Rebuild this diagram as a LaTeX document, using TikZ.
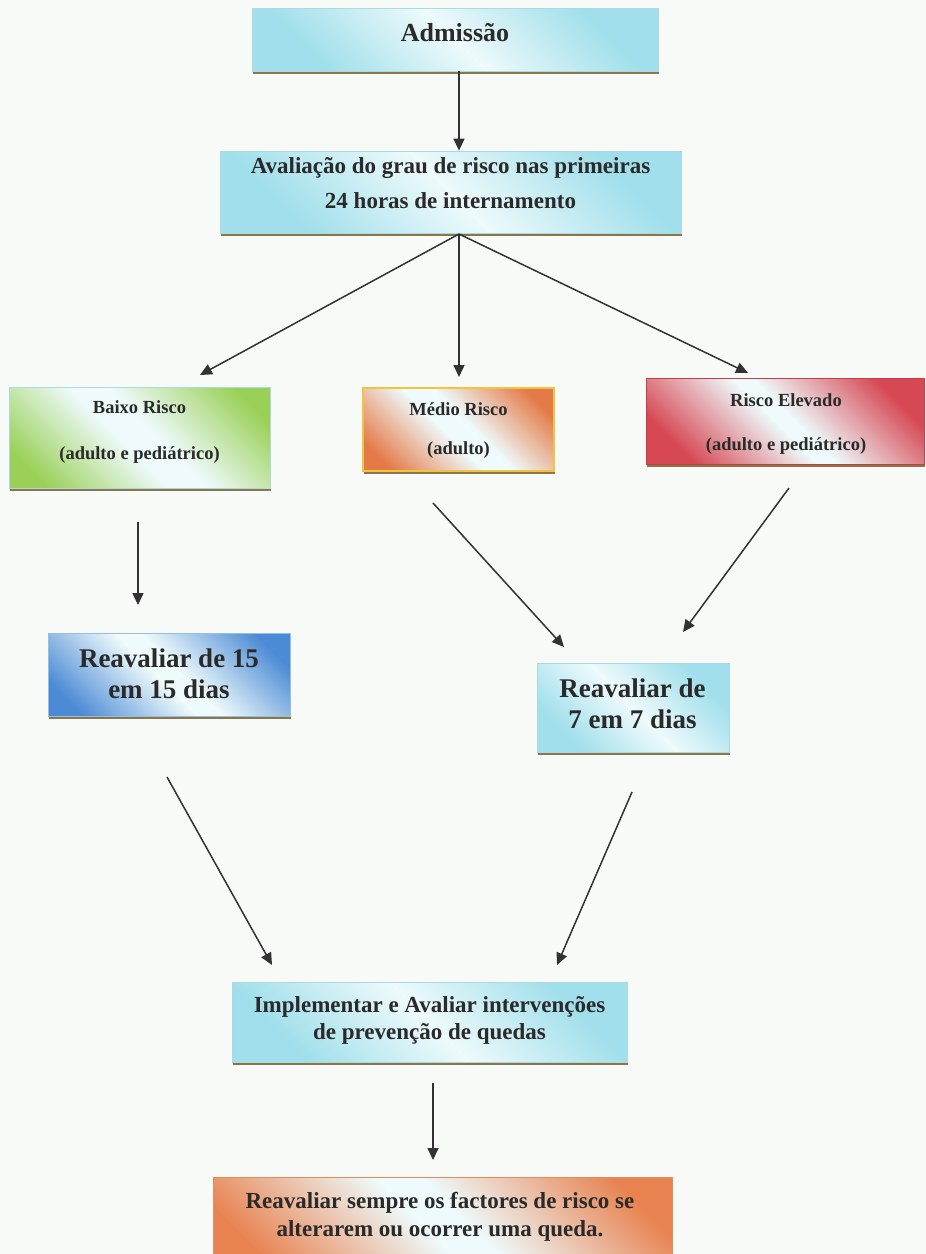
\documentclass[tikz,border=0pt]{standalone}
\usepackage{fontspec}
\setmainfont{Liberation Serif}
\usetikzlibrary{arrows.meta,shadows}

\definecolor{bgc}{RGB}{248,250,248}
\definecolor{textc}{RGB}{42,42,42}
\definecolor{arrowc}{RGB}{50,50,50}
\definecolor{shadowc}{RGB}{138,118,72}
\definecolor{lightC}{RGB}{238,250,251}
\definecolor{cyanE}{RGB}{160,223,235}
\definecolor{cyanB}{RGB}{170,218,228}
\definecolor{greenE}{RGB}{155,208,88}
\definecolor{medioE}{RGB}{228,122,72}
\definecolor{medioB}{RGB}{240,196,60}
\definecolor{elevE}{RGB}{214,72,84}
\definecolor{elevB}{RGB}{200,60,70}
\definecolor{blueE}{RGB}{75,138,212}
\definecolor{blueB}{RGB}{150,190,225}
\definecolor{botE}{RGB}{232,130,80}
\definecolor{botB}{RGB}{225,140,90}

\pgfdeclareverticalshading{shcyan}{100bp}{color(0bp)=(cyanE); color(26bp)=(cyanE); color(50bp)=(lightC); color(74bp)=(cyanE); color(100bp)=(cyanE)}
\pgfdeclareverticalshading{shgreen}{100bp}{color(0bp)=(greenE); color(22bp)=(greenE); color(46bp)=(lightC); color(54bp)=(lightC); color(78bp)=(greenE); color(100bp)=(greenE)}
\pgfdeclareverticalshading{shmedio}{100bp}{color(0bp)=(medioE); color(22bp)=(medioE); color(46bp)=(lightC); color(54bp)=(lightC); color(78bp)=(medioE); color(100bp)=(medioE)}
\pgfdeclareverticalshading{shelev}{100bp}{color(0bp)=(elevE); color(24bp)=(elevE); color(48bp)=(lightC); color(52bp)=(lightC); color(76bp)=(elevE); color(100bp)=(elevE)}
\pgfdeclareverticalshading{shblue}{100bp}{color(0bp)=(blueE); color(22bp)=(blueE); color(47bp)=(lightC); color(53bp)=(lightC); color(78bp)=(blueE); color(100bp)=(blueE)}
\pgfdeclareverticalshading{shbot}{100bp}{color(0bp)=(botE); color(22bp)=(botE); color(47bp)=(lightC); color(53bp)=(lightC); color(78bp)=(botE); color(100bp)=(botE)}

\newcommand\fsAdm{\fontsize{26}{30}\selectfont\bfseries}
\newcommand\fsMain{\fontsize{23}{27}\selectfont\bfseries}
\newcommand\fsRisk{\fontsize{18.5}{22}\selectfont\bfseries}
\newcommand\fsBig{\fontsize{27}{31}\selectfont\bfseries}

\tikzset{
  box/.style={rectangle, inner sep=0pt, line width=0.8pt, shade, shading angle=-45,
    drop shadow={shadow xshift=1pt, shadow yshift=-2.8pt, fill=shadowc, opacity=1}},
  cyanbox/.style={box, draw=cyanB, shading=shcyan},
  greenbox/.style={box, draw=cyanB, shading=shgreen},
  mediobox/.style={box, draw=medioB, line width=1.2pt, shading=shmedio},
  elevbox/.style={box, draw=elevB, shading=shelev},
  bluebox/.style={box, draw=blueB, shading=shblue},
  botbox/.style={box, draw=botB, shading=shbot},
  txt/.style={anchor=base, inner sep=0pt, text=textc},
  arr/.style={draw=arrowc, line width=1.5pt, -{Triangle[length=12pt,width=11pt]}},
}

\begin{document}
\begin{tikzpicture}[x=1pt,y=-1pt]
\useasboundingbox (0,0) rectangle (926,1254);
\fill[bgc] (0,0) rectangle (926,1254);

% boxes
\node[cyanbox, minimum width=406pt, minimum height=63pt] (adm) at (455,39.5) {};
\node[cyanbox, minimum width=461pt, minimum height=82pt] (aval) at (450.5,192) {};
\node[greenbox, minimum width=261pt, minimum height=101pt] (baixo) at (139.5,437.5) {};
\node[mediobox, minimum width=191pt, minimum height=83pt] (medio) at (458.5,429.5) {};
\node[elevbox, minimum width=278pt, minimum height=86pt] (elev) at (785,421) {};
\node[bluebox, minimum width=242pt, minimum height=83pt] (r15) at (169,674.5) {};
\node[cyanbox, minimum width=192pt, minimum height=89pt] (r7) at (633,707.5) {};
\node[cyanbox, minimum width=395pt, minimum height=80pt] (impl) at (429.5,1022) {};
\node[botbox, minimum width=459pt, minimum height=90pt] (bot) at (442.5,1222) {};

% texts
\node[txt, font=\fsAdm] (adm-t) at (455,41) {Admissão};
\node[txt, font=\fsMain] (aval-t1) at (450.5,173) {Avaliação do grau de risco nas primeiras};
\node[txt, font=\fsMain] (aval-t2) at (450.5,208) {24 horas de internamento};
\node[txt, font=\fsRisk] (baixo-t1) at (139.5,413) {Baixo Risco};
\node[txt, font=\fsRisk] (baixo-t2) at (139.5,459) {(adulto e pediátrico)};
\node[txt, font=\fsRisk] (medio-t1) at (458.5,415) {Médio Risco};
\node[txt, font=\fsRisk] (medio-t2) at (458.5,454) {(adulto)};
\node[txt, font=\fsRisk] (elev-t1) at (786,406) {Risco Elevado};
\node[txt, font=\fsRisk] (elev-t2) at (786,450) {(adulto e pediátrico)};
\node[txt, font=\fsBig] (r15-t1) at (169,667) {Reavaliar de 15};
\node[txt, font=\fsBig] (r15-t2) at (169,698) {em 15 dias};
\node[txt, font=\fsBig] (r7-t1) at (632.5,697) {Reavaliar de};
\node[txt, font=\fsBig] (r7-t2) at (632.5,728) {7 em 7 dias};
\node[txt, font=\fsMain] (impl-t1) at (429.5,1012) {Implementar e Avaliar intervenções};
\node[txt, font=\fsMain] (impl-t2) at (429.5,1039) {de prevenção de quedas};
\node[txt, font=\fsMain] (bot-t1) at (440,1208) {Reavaliar sempre os factores de risco se};
\node[txt, font=\fsMain] (bot-t2) at (440,1236) {alterarem ou ocorrer uma queda.};

% connector end points
\coordinate (hub) at (459,234);
\coordinate (tB) at (200,375);
\coordinate (tM) at (459,377);
\coordinate (tE) at (748,373);
\coordinate (b1) at (138,522);
\coordinate (b2) at (138,605);
\coordinate (m1) at (433,503);
\coordinate (m2) at (564,647);
\coordinate (e1) at (789,488);
\coordinate (e2) at (683,632);
\coordinate (f1) at (167,777);
\coordinate (f2) at (272,965);
\coordinate (s1) at (632,792);
\coordinate (s2) at (557,965);
\coordinate (i1) at (433,1083);
\coordinate (i2) at (433,1160);

% connectors
\draw[arr] (adm.south -| hub) -- (aval.north -| hub);
\draw[arr] (hub) -- (tB);
\draw[arr] (hub) -- (tM);
\draw[arr] (hub) -- (tE);
\draw[arr] (b1) -- (b2);
\draw[arr] (m1) -- (m2);
\draw[arr] (e1) -- (e2);
\draw[arr] (f1) -- (f2);
\draw[arr] (s1) -- (s2);
\draw[arr] (i1) -- (i2);
\end{tikzpicture}
\end{document}
